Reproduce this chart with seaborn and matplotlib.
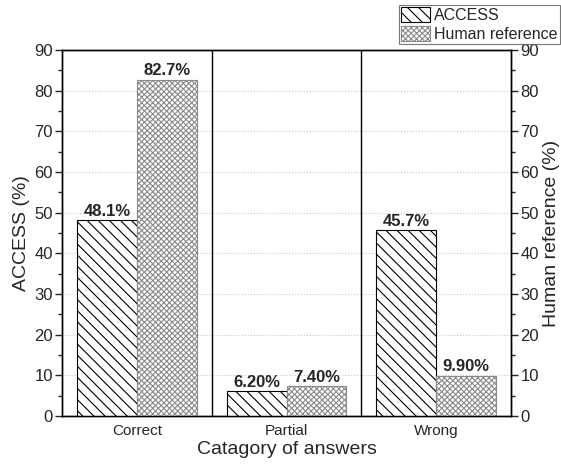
import pandas as pd
import matplotlib.pyplot as plt
import seaborn as sns
from matplotlib.patches import Patch
from matplotlib.ticker import MultipleLocator

categories = ['Correct', 'Partial', 'Wrong']
access = [48.1, 6.2, 45.7]
human = [82.7, 7.4, 9.9]
access_labels = ['48.1%', '6.20%', '45.7%']
human_labels = ['82.7%', '7.40%', '9.90%']

data = pd.DataFrame({
    'category': categories * 2,
    'value': access + human,
    'source': ['ACCESS'] * 3 + ['Human reference'] * 3,
})

sns.set_style('white')
plt.rcParams['font.family'] = ['Liberation Sans', 'DejaVu Sans']
plt.rcParams['hatch.linewidth'] = 0.8

fig = plt.figure(figsize=(5.61, 4.66), dpi=100)
ax = fig.add_axes([0.1114, 0.107, 0.799, 0.786])

sns.barplot(data, x='category', y='value', hue='source', ax=ax,
            palette=['white', 'white'], width=0.8, legend=False, zorder=3)

hatches = ['\\\\\\', 'xxxxxx']
edges = ['black', '#8a8a8a']
for i, cont in enumerate(ax.containers):
    for bar in cont:
        bar.set_hatch(hatches[i])
        bar.set_edgecolor(edges[i])
        bar.set_linewidth(0.8)
    labels = access_labels if i == 0 else human_labels
    ax.bar_label(cont, labels=labels, padding=1, fontsize=12, fontweight='bold')

ax.axvline(0.5, color='black', lw=1.0, zorder=4)
ax.axvline(1.5, color='black', lw=1.0, zorder=4)

ax.set_ylim(0, 90)
ax.set_xlim(-0.5, 2.5)
ax.yaxis.set_major_locator(MultipleLocator(10))
ax.yaxis.set_minor_locator(MultipleLocator(5))
ax.yaxis.grid(True, which='major', linestyle=':', color='#c8c8c8', lw=0.8)
ax.set_axisbelow(True)
ax.tick_params(axis='y', which='major', direction='out', length=5, width=1,
               labelsize=12, left=True, pad=2)
ax.tick_params(axis='y', which='minor', direction='out', length=3, width=1, left=True)
ax.tick_params(axis='x', length=0, labelsize=11, pad=6)
ax.set_ylabel('ACCESS (%)', fontsize=14, labelpad=3)
ax.set_xlabel('Catagory of answers', fontsize=14, labelpad=2)
for s in ax.spines.values():
    s.set_color('black')
    s.set_linewidth(1.0)

ax2 = ax.twinx()
ax2.set_ylim(0, 90)
ax2.yaxis.set_major_locator(MultipleLocator(10))
ax2.yaxis.set_minor_locator(MultipleLocator(5))
ax2.tick_params(axis='y', which='major', direction='out', length=5, width=1,
                labelsize=12, right=True, pad=2)
ax2.tick_params(axis='y', which='minor', direction='out', length=3, width=1, right=True)
ax2.set_ylabel('Human reference (%)', fontsize=14, labelpad=3)
for s in ax2.spines.values():
    s.set_color('black')
    s.set_linewidth(1.0)

handles = [Patch(facecolor='white', edgecolor='black', hatch='\\\\\\', lw=0.8),
           Patch(facecolor='white', edgecolor='#8a8a8a', hatch='xxxxxx', lw=0.8)]
leg = fig.legend(handles, ['ACCESS', 'Human reference'], loc='upper right',
                 bbox_to_anchor=(0.998, 0.99), fontsize=11.5, frameon=True,
                 fancybox=False, edgecolor='#555555', borderpad=0.15,
                 labelspacing=0.15, handlelength=1.8, handleheight=1.1,
                 handletextpad=0.25, borderaxespad=0)
leg.get_frame().set_linewidth(0.8)

fig.savefig('out.png', dpi=100)
